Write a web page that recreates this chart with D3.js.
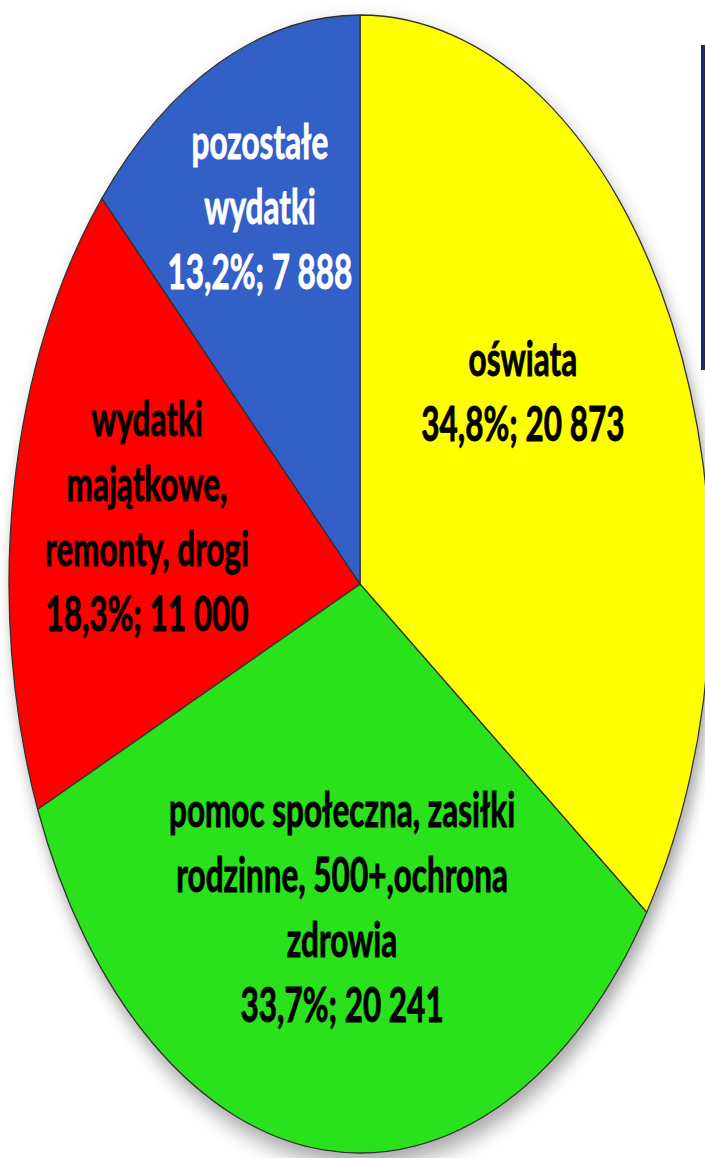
<!DOCTYPE html>
<html>
<head>
<meta charset="utf-8">
<script src="https://cdn.jsdelivr.net/npm/d3@7"></script>
<style>
  body { margin: 0; background: #fff; overflow: hidden; }
  text { font-family: Lato, "Open Sans", sans-serif; font-weight: bold; }
</style>
</head>
<body>
<svg width="705" height="1158"></svg>
<script>
// data
const categories = ['oświata', 'pomoc społeczna', 'wydatki majątkowe', 'pozostałe wydatki'];
const amounts = [20873, 20241, 11000, 7888];
const shares = ['34,8%', '33,7%', '18,3%', '13,2%'];
const amountLabels = ['20 873', '20 241', '11 000', '7 888'];
const labelLines = [
  ['oświata'],
  ['pomoc społeczna, zasiłki', 'rodzinne, 500+,ochrona', 'zdrowia'],
  ['wydatki', 'majątkowe,', 'remonty, drogi'],
  ['pozostałe', 'wydatki']
];
const colors = ['#ffff00', '#2be21d', '#ff0000', '#3161c6'];
const textColors = ['#000', '#000', '#000', '#fff'];

// layout
const cx = 360, cy = 584, rx = 351, ry = 569;
const r = 100; // unit circle drawn then stretched into an ellipse
const labelAt = [[0.464, -0.339], [-0.051, 0.569], [-0.607, -0.119], [-0.285, -0.663]];
const lineGap = 65, capH = 34, fontSize = 31.5, textScaleY = 1.5;

const svg = d3.select('svg');

const defs = svg.append('defs');
const f = defs.append('filter').attr('id', 'shadow')
  .attr('x', '-10%').attr('y', '-10%').attr('width', '120%').attr('height', '120%');
f.append('feDropShadow').attr('dx', 1).attr('dy', 2).attr('stdDeviation', 2)
  .attr('flood-color', '#000').attr('flood-opacity', 0.35);

// navy frame edge on the right
svg.append('rect')
  .attr('x', 703).attr('y', 47).attr('width', 30).attr('height', 321)
  .attr('fill', '#fff').attr('stroke', '#1c2a6e').attr('stroke-width', 4);

const data = categories.map((c, i) => ({ name: c, value: amounts[i], i }));

const pie = d3.pie().value(d => d.value).sort(null);
const arc = d3.arc().innerRadius(0).outerRadius(r);

const g = svg.append('g')
  .attr('transform', `translate(${cx},${cy}) scale(${rx / r},${ry / r})`)
  .attr('filter', 'url(#shadow)');

g.selectAll('path').data(pie(data)).enter().append('path')
  .attr('d', arc)
  .attr('fill', d => colors[d.data.i])
  .attr('stroke', '#333')
  .attr('stroke-width', 1.3)
  .attr('vector-effect', 'non-scaling-stroke');

// labels
data.forEach((d, i) => {
  const lines = labelLines[i].concat([shares[i] + '; ' + amountLabels[i]]);
  const x = cx + labelAt[i][0] * rx;
  const midY = cy + labelAt[i][1] * ry;
  const firstBase = midY - ((lines.length - 1) * lineGap - capH) / 2;
  lines.forEach((t, k) => {
    svg.append('text')
      .attr('transform', `translate(${x},${firstBase + k * lineGap}) scale(1,${textScaleY})`)
      .attr('text-anchor', 'middle')
      .attr('font-size', fontSize)
      .attr('fill', textColors[i])
      .attr('stroke', textColors[i])
      .attr('stroke-width', 0.6)
      .text(t);
  });
});
</script>
</body>
</html>
